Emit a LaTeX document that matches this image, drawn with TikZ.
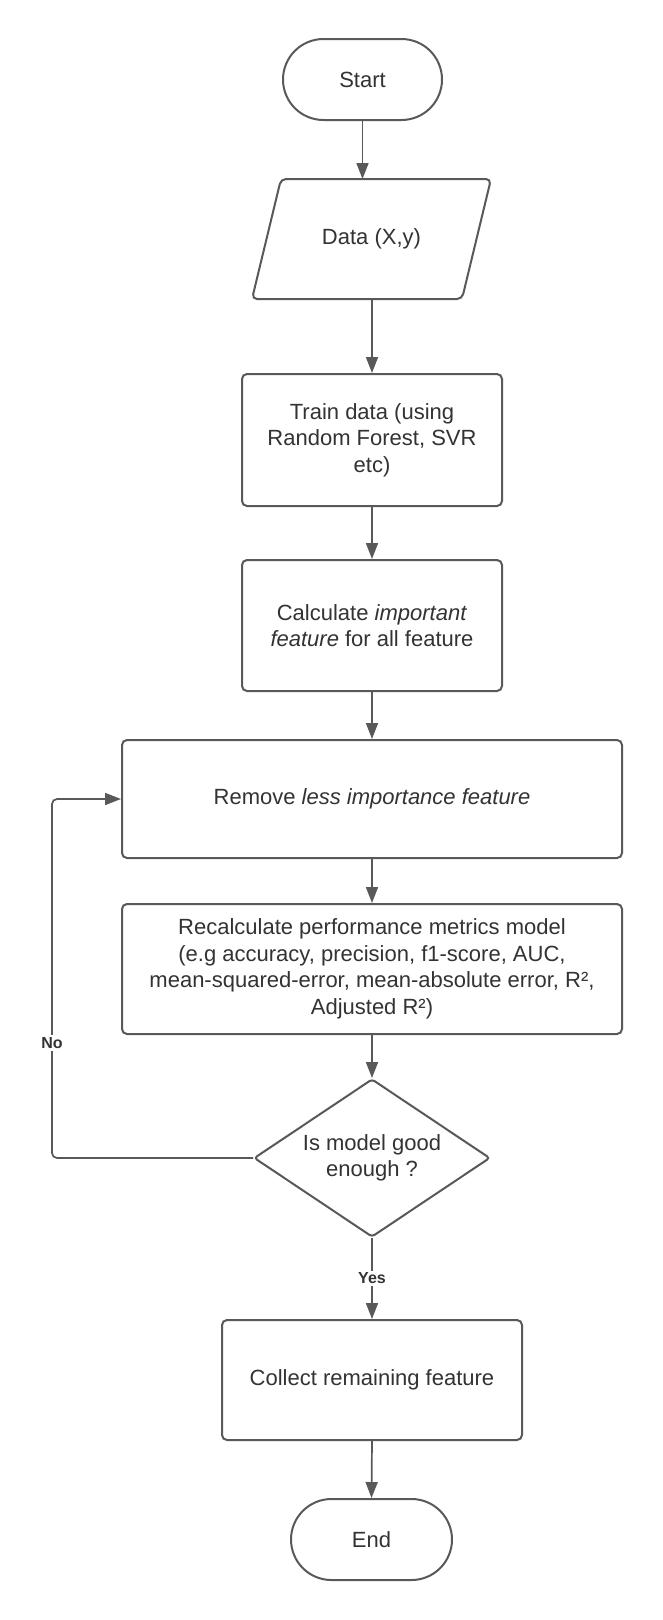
\documentclass[tikz,border=0pt]{standalone}
\usepackage{fontspec}
\setmainfont{Liberation Sans}
\usetikzlibrary{shapes.geometric,shapes.misc,arrows.meta}
\definecolor{ln}{HTML}{595959}
\definecolor{tx}{HTML}{333333}
\begin{document}
\begin{tikzpicture}[x=1pt,y=-1pt,
  every node/.style={font=\fontsize{22}{26.5}\selectfont, text=tx},
  box/.style={draw=ln, line width=2pt, rounded corners=5pt, fill=white, align=center, inner sep=0pt},
  term/.style={draw=ln, line width=2pt, rounded rectangle, fill=white, align=center, inner sep=0pt},
  dia/.style={draw=ln, line width=2pt, diamond, aspect=1.49, rounded corners=3pt, fill=white, align=center, inner sep=0pt, minimum width=236, minimum height=158},
  paratext/.style={align=center, inner sep=0pt, outer sep=1pt, minimum width=208, minimum height=118},
  paraline/.style={draw=ln, line width=2pt, rounded corners=5pt, fill=white},
  arr/.style={draw=ln, line width=1.7pt, -{Triangle[length=16pt,width=12pt]}},
  lbl/.style={font=\fontsize{16}{18}\selectfont\bfseries, fill=white, inner sep=2pt}]
\fill[white] (0,0) rectangle (662,1620);
\useasboundingbox (0,0) rectangle (662,1620);
\node[term, minimum width=159, minimum height=81] (start) at (362.5,79.5) {Start};
\node[paratext] (data) at (371.5,239) {};
\draw[paraline] ([xshift=14.5pt]data.north west) -- ([xshift=14.5pt]data.north east) -- ([xshift=-14.5pt]data.south east) -- ([xshift=-14.5pt]data.south west) -- cycle;
\node[paratext] at (data.center) {Data (X,y)};
\node[box, minimum width=260, minimum height=132] (train) at (372,440) {Train data (using\\Random Forest, SVR\\etc)};
\node[box, minimum width=260, minimum height=131] (calc) at (372,625.5) {Calculate \textit{important}\\\textit{feature} for all feature};
\node[box, minimum width=500, minimum height=118] (remove) at (372,799) {Remove \textit{less importance feature}};
\node[box, minimum width=500, minimum height=130] (recalc) at (372,969) {Recalculate performance metrics model\\(e.g accuracy, precision, f1-score, AUC,\\mean-squared-error, mean-absolute error, R²,\\Adjusted R²)};
\node[dia] (dec) at (372,1158) {Is model good\\enough ?};
\node[box, minimum width=300, minimum height=120] (collect) at (372,1380) {Collect remaining feature};
\node[term, minimum width=161, minimum height=81] (end) at (371.5,1539.5) {End};
\coordinate (nl) at (52,1158);
\draw[arr] (start.south) -- (start.south |- data.north);
\draw[arr] (train.north |- data.south) -- (train.north);
\draw[arr] (train.south) -- (calc.north);
\draw[arr] (calc.south) -- (remove.north);
\draw[arr] (remove.south) -- (recalc.north);
\draw[arr] (recalc.south) -- (dec.north);
\draw[arr] (dec.south) -- node[lbl] (yes) {Yes} (collect.north);
\draw[arr] (collect.south) -- (end.north);
\draw[arr, rounded corners=5pt] (dec.west) -- (dec.west -| nl) -- (nl |- remove.west) -- (remove.west);
\node[lbl] (no) at (52,1043) {No};
\end{tikzpicture}
\end{document}
